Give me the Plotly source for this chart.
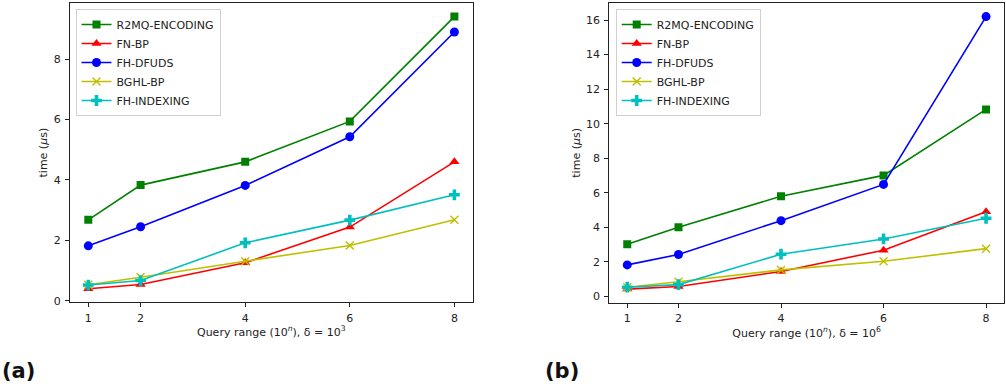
import plotly.graph_objects as go

x_vals = [1, 2, 4, 6, 8]
series_names = ["R2MQ-ENCODING", "FN-BP", "FH-DFUDS", "BGHL-BP", "FH-INDEXING"]

# panel (a): delta = 10^3
a_r2mq = [2.68, 3.83, 4.60, 5.94, 9.41]
a_fnbp = [0.40, 0.54, 1.26, 2.44, 4.60]
a_dfuds = [1.82, 2.45, 3.82, 5.43, 8.90]
a_bghl = [0.53, 0.78, 1.31, 1.83, 2.68]
a_index = [0.52, 0.67, 1.92, 2.67, 3.51]

# panel (b): delta = 10^6
b_r2mq = [3.03, 4.01, 5.80, 7.01, 10.83]
b_fnbp = [0.43, 0.58, 1.45, 2.68, 4.91]
b_dfuds = [1.83, 2.43, 4.39, 6.49, 16.20]
b_bghl = [0.54, 0.85, 1.54, 2.04, 2.77]
b_index = [0.54, 0.69, 2.45, 3.33, 4.53]

x_ticks = [1, 2, 4, 6, 8]
a_yticks = [0, 2, 4, 6, 8]
b_yticks = [0, 2, 4, 6, 8, 10, 12, 14, 16]

colors = ["#008000", "#ff0000", "#0000ff", "#bfbf00", "#00bfbf"]
symbols = ["square", "triangle-up", "circle", "x-thin", "cross"]

W, H = 1006, 392
FONT = "DejaVu Sans"
FS = 11

fig = go.Figure()

def add_panel(data, xa, ya, legend):
    for name, ys, c, s in zip(series_names, data, colors, symbols):
        if s == "x-thin":
            marker = dict(symbol=s, size=8, color=c, line=dict(color=c, width=1.4))
        elif s == "cross":
            marker = dict(symbol=s, size=9, color=c, line=dict(width=0))
        elif s == "square":
            marker = dict(symbol=s, size=8, color=c, line=dict(width=0))
        else:
            marker = dict(symbol=s, size=9, color=c, line=dict(width=0))
        fig.add_trace(go.Scatter(x=x_vals, y=ys, name=name, mode="lines+markers",
                                 line=dict(color=c, width=1.6), marker=marker,
                                 xaxis=xa, yaxis=ya, legend=legend))

add_panel([a_r2mq, a_fnbp, a_dfuds, a_bghl, a_index], "x", "y", "legend")
add_panel([b_r2mq, b_fnbp, b_dfuds, b_bghl, b_index], "x2", "y2", "legend2")

def yrange(*arrs):
    lo = min(min(a) for a in arrs)
    hi = max(max(a) for a in arrs)
    m = (hi - lo) * 0.05
    return [lo - m, hi + m]

xr = [x_vals[0] - 0.35, x_vals[-1] + 0.35]

axis_common = dict(showline=True, linecolor="#222", linewidth=1, mirror=True,
                   ticks="outside", ticklen=4, tickwidth=1, tickcolor="#222",
                   showgrid=False, zeroline=False, automargin=False,
                   tickfont=dict(family=FONT, size=FS, color="#222"))

title_font = dict(family=FONT, size=FS, color="#222")

fig.update_layout(
    width=W, height=H, margin=dict(l=0, r=0, t=0, b=0, autoexpand=False),
    paper_bgcolor="white", plot_bgcolor="white",
    font=dict(family=FONT, size=FS, color="#222"),
    xaxis=dict(domain=[70 / W, 472.7 / W], range=xr, tickvals=x_ticks, anchor="y",
               ticklabelstandoff=1,
               title=dict(text="Query range (10<sup><i>n</i></sup>), δ = 10<sup>3</sup>",
                          font=title_font, standoff=4), **axis_common),
    yaxis=dict(domain=[1 - 302.3 / H, 1 - 3 / H], range=yrange(a_r2mq, a_fnbp, a_dfuds, a_bghl, a_index),
               tickvals=a_yticks, anchor="x", ticklabelstandoff=2,
               title=dict(text="time (<i>µ</i>s)", font=title_font, standoff=3), **axis_common),
    xaxis2=dict(domain=[609.3 / W, 1004 / W], range=xr, tickvals=x_ticks, anchor="y2",
                ticklabelstandoff=1,
                title=dict(text="Query range (10<sup><i>n</i></sup>), δ = 10<sup>6</sup>",
                           font=title_font, standoff=4), **axis_common),
    yaxis2=dict(domain=[1 - 302.7 / H, 1 - 3 / H], range=yrange(b_r2mq, b_fnbp, b_dfuds, b_bghl, b_index),
                tickvals=b_yticks, anchor="x2", ticklabelstandoff=2,
                title=dict(text="time (<i>µ</i>s)", font=title_font, standoff=3), **axis_common),
    legend=dict(x=75.5 / W, y=1 - 9 / H, xanchor="left", yanchor="top",
                bgcolor="white", bordercolor="#d0d0d0", borderwidth=1,
                font=dict(family=FONT, size=FS, color="#222"), tracegroupgap=0),
    legend2=dict(x=615.7 / W, y=1 - 9 / H, xanchor="left", yanchor="top",
                 bgcolor="white", bordercolor="#d0d0d0", borderwidth=1,
                 font=dict(family=FONT, size=FS, color="#222"), tracegroupgap=0),
    showlegend=True,
)

fig.add_annotation(text="<b>(a)</b>", x=0 / W, y=1 - 371 / H, xref="paper", yref="paper",
                   xanchor="left", yanchor="middle", showarrow=False,
                   font=dict(family=FONT, size=21, color="#111"))
fig.add_annotation(text="<b>(b)</b>", x=543 / W, y=1 - 371 / H, xref="paper", yref="paper",
                   xanchor="left", yanchor="middle", showarrow=False,
                   font=dict(family=FONT, size=21, color="#111"))

fig.write_html("out.html")
